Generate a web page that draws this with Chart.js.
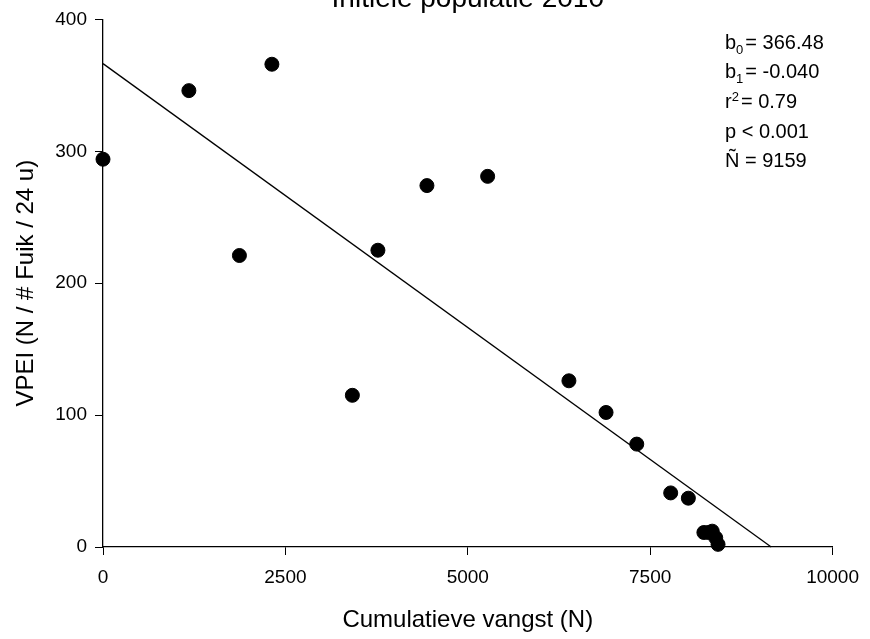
<!DOCTYPE html>
<html>
<head>
<meta charset="utf-8">
<script src="https://cdn.jsdelivr.net/npm/chart.js@4.4.0/dist/chart.umd.min.js"></script>
<style>
  html, body { margin: 0; padding: 0; background: #fff; }
  #wrap { width: 870px; height: 639px; position: relative; }
</style>
</head>
<body>
<div id="wrap"><canvas id="myChart"></canvas></div>
<script>
// Cumulative catch (x) against VPEI (y)
let catchValues = [0, 1177, 2315, 1870, 3418, 3768, 4440, 5272, 6386, 6895, 7316, 7781, 8023, 8236, 8300, 8350, 8398, 8430];
let vpeiValues  = [294, 346, 366, 221, 115, 225, 274, 281, 126, 102, 78, 41, 37, 11, 11, 12, 7, 2];

// Regression results
let b0 = 366.48;
let b1 = -0.040;
let r2 = 0.79;
let nHat = 9159;

let xTicks = [0, 2500, 5000, 7500, 10000];
let yTicks = [0, 100, 200, 300, 400];

let points = catchValues.map((x, i) => ({ x: x, y: vpeiValues[i] }));
let fitLine = [{ x: 0, y: b0 }, { x: nHat, y: 0 }];

const FONT = "'Liberation Sans', Arial, sans-serif";

// Title (partly cut off at the top) and regression statistics
const textPlugin = {
  id: "texts",
  afterDraw(chart) {
    const ctx = chart.ctx;
    ctx.save();
    ctx.fillStyle = "#000";
    ctx.textBaseline = "alphabetic";

    ctx.font = "28px " + FONT;
    ctx.textAlign = "center";
    ctx.fillText("Initiele populatie 2010", (chart.chartArea.left + chart.chartArea.right) / 2, 7);

    ctx.textAlign = "left";
    const x0 = 725;
    const big = "20px " + FONT;
    const small = "13px " + FONT;
    function sub(base, s, rest, y, up) {
      ctx.font = big;
      ctx.fillText(base, x0, y);
      let w = ctx.measureText(base).width;
      ctx.font = small;
      ctx.fillText(s, x0 + w, up ? y - 7 : y + 5);
      let w2 = ctx.measureText(s).width;
      ctx.font = big;
      ctx.fillText(rest, x0 + w + w2 + 2, y);
    }
    sub("b", "0", "= " + b0.toFixed(2), 49, false);
    sub("b", "1", "= " + b1.toFixed(3), 78, false);
    sub("r", "2", "= " + r2.toFixed(2), 108, true);
    ctx.font = big;
    ctx.fillText("p < 0.001", x0, 138);
    ctx.fillText("\u00D1 = " + nHat, x0, 167);
    ctx.restore();
  }
};

new Chart("myChart", {
  type: "scatter",
  data: {
    datasets: [
      {
        type: "line",
        data: fitLine,
        borderColor: "#000",
        borderWidth: 1.3,
        pointRadius: 0,
        fill: false,
        clip: false
      },
      {
        data: points,
        backgroundColor: "#000",
        borderColor: "#000",
        pointRadius: 7,
        pointHoverRadius: 7,
        clip: false
      }
    ]
  },
  options: {
    responsive: true,
    maintainAspectRatio: false,
    animation: false,
    events: [],
    layout: { padding: { left: 0, right: 34, top: 15, bottom: 0 } },
    plugins: {
      legend: { display: false },
      tooltip: { enabled: false },
      title: { display: false }
    },
    scales: {
      x: {
        type: "linear",
        min: 0,
        max: 10000,
        afterBuildTicks: (scale) => { scale.ticks = xTicks.map(v => ({ value: v })); },
        afterFit: (scale) => { scale.height = 92; },
        grid: { drawOnChartArea: false, drawTicks: true, tickLength: 8, color: "#000", lineWidth: 1 },
        border: { color: "#000", width: 1.3 },
        ticks: {
          color: "#000",
          font: { family: FONT, size: 19 },
          padding: 11,
          maxRotation: 0,
          callback: (v) => String(v)
        },
        title: {
          display: true,
          text: "Cumulatieve vangst (N)",
          color: "#000",
          font: { family: FONT, size: 24 },
          padding: { top: 0, bottom: 4 }
        }
      },
      y: {
        type: "linear",
        min: 0,
        max: 400,
        afterBuildTicks: (scale) => { scale.ticks = yTicks.map(v => ({ value: v })); },
        afterFit: (scale) => { scale.width = 103; },
        grid: { drawOnChartArea: false, drawTicks: true, tickLength: 8, color: "#000", lineWidth: 1 },
        border: { color: "#000", width: 1.3 },
        ticks: {
          color: "#000",
          font: { family: FONT, size: 19 },
          padding: 8,
          callback: (v) => String(v)
        },
        title: {
          display: true,
          text: "VPEI (N / # Fuik / 24 u)",
          color: "#000",
          font: { family: FONT, size: 24 },
          padding: { top: 12, bottom: 0 }
        }
      }
    }
  },
  plugins: [textPlugin]
});
</script>
</body>
</html>
